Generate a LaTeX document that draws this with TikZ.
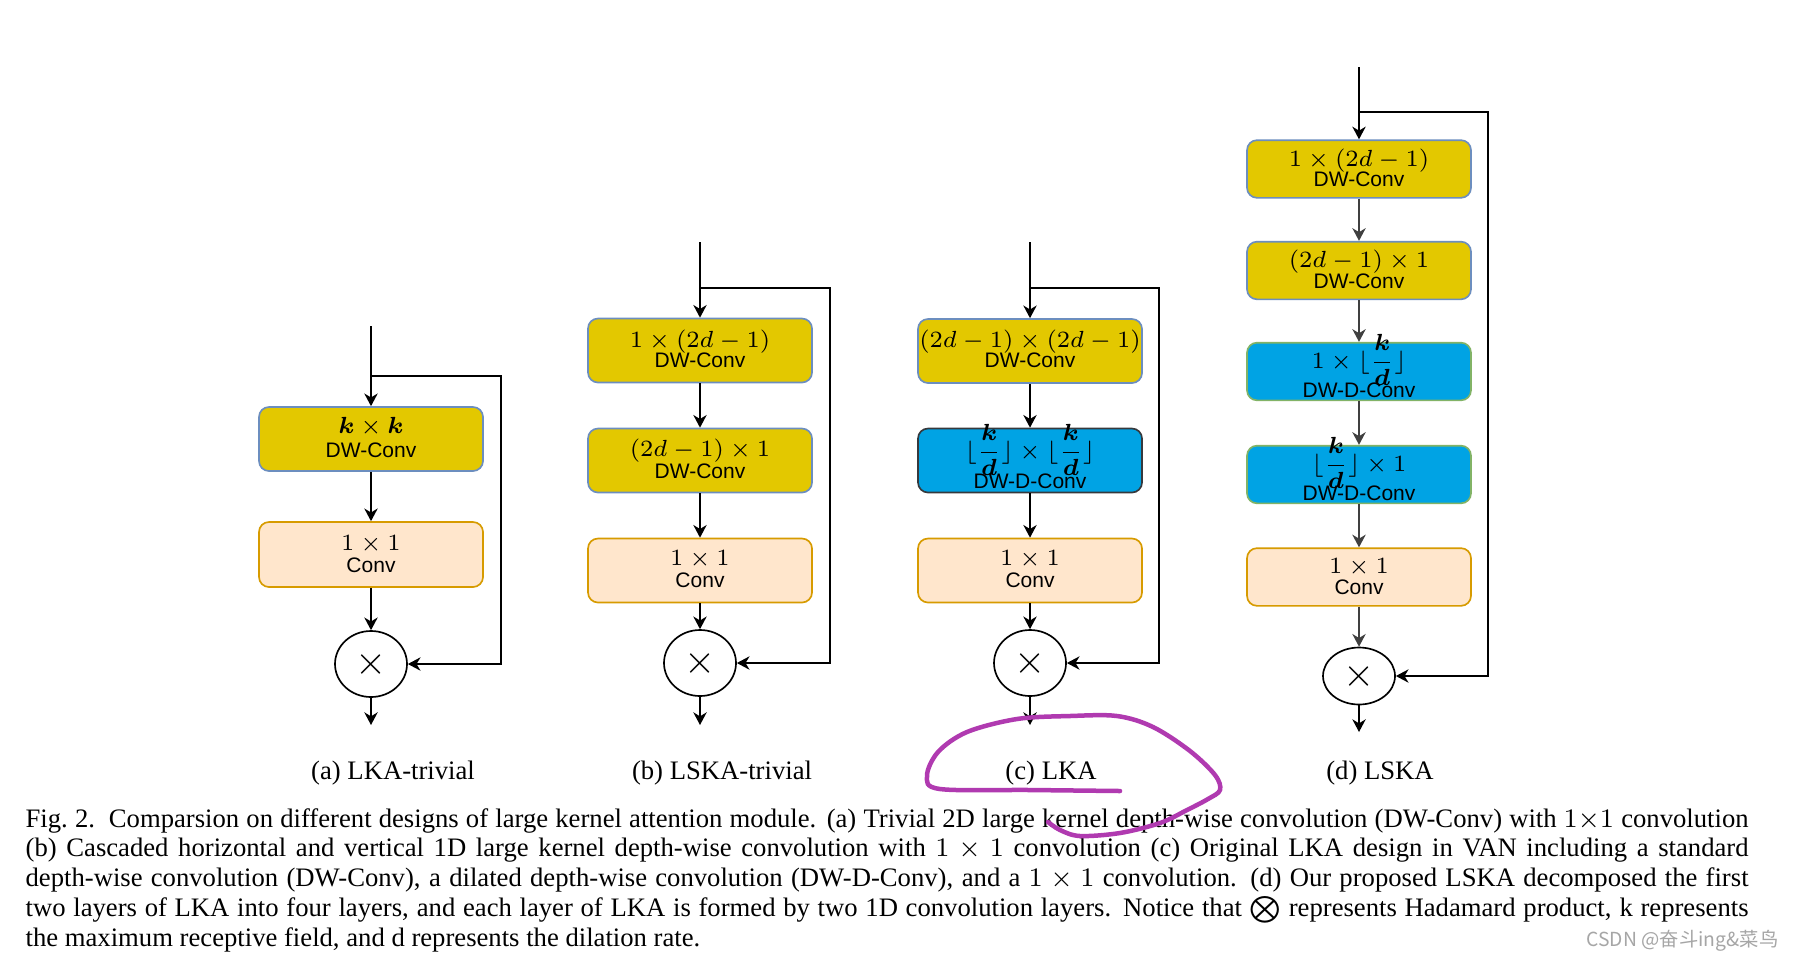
\documentclass[tikz,border=0pt]{standalone}
\usepackage{amsmath}
\usepackage[no-math]{fontspec}
\setmainfont{Liberation Serif}
\newfontfamily\hv{Liberation Sans}
\newfontfamily\cjk{Noto Sans CJK SC}
\usetikzlibrary{arrows.meta,shapes.geometric}
\definecolor{yfill}{HTML}{E3C800}
\definecolor{ybord}{HTML}{6C8EBF}
\definecolor{pfill}{HTML}{FFE6CC}
\definecolor{pbord}{HTML}{D79B00}
\definecolor{bfill}{HTML}{00A3E4}
\definecolor{bbordc}{HTML}{36393D}
\definecolor{bbordd}{HTML}{82B366}
\definecolor{annocol}{HTML}{B03AB0}
\tikzset{
 box/.style={rounded corners=3pt, line width=0.5pt, inner sep=0pt, minimum width=67.2pt, minimum height=19.2pt},
 ybox/.style={box, fill=yfill, draw=ybord},
 pbox/.style={box, fill=pfill, draw=pbord},
 bboxc/.style={box, fill=bfill, draw=bbordc},
 bboxd/.style={box, fill=bfill, draw=bbordd},
 dsize/.style={minimum height=17.3pt},
 prod/.style={ellipse, draw, line width=0.5pt, inner sep=0pt, minimum width=21.6pt, minimum height=19.8pt, fill=white, font=\fontsize{13}{13}\selectfont},
 prodd/.style={prod, minimum height=17.1pt},
 arr/.style={line width=0.55pt, -{Stealth[length=3.8pt,width=4pt,inset=1.2pt]}},
 arrd/.style={arr, draw=black!75},
 mth/.style={anchor=base, inner sep=0pt, font=\fontsize{7.3}{8}\selectfont},
 lbl/.style={anchor=base, inner sep=0pt, font={\hv\fontsize{6.3}{7}\selectfont}},
 sub/.style={anchor=base, inner sep=0pt, font=\fontsize{8}{9}\selectfont},
 anno/.style={draw=annocol, line width=1.35pt, line cap=round, line join=round},
}
\newcommand{\fkd}{\lfloor\dfrac{\boldsymbol{k}}{\boldsymbol{d}}\rfloor}
\begin{document}
\begin{tikzpicture}[x=0.3pt,y=-0.3pt]
\useasboundingbox (0,0) rectangle (1796,958);
\fill[white] (0,0) rectangle (1796,958);

% ---------- (a) LKA-trivial ----------
\node[ybox] (a1) at (371,439) {};
\node[mth] (a1m) at (371,433) {$\boldsymbol{k}\times\boldsymbol{k}$};
\node[lbl] (a1t) at (371,457) {DW-Conv};
\node[pbox, minimum height=19.5pt] (a2) at (371,554.5) {};
\node[mth] (a2m) at (371,550) {$1\times1$};
\node[lbl] (a2t) at (371,572) {Conv};
\node[prod] (ca) at (371,664) {$\times$};
\coordinate (a-in) at (371,326);
\coordinate (a-br) at (371,376);
\coordinate (a-rc) at (501,376);
\coordinate (a-out) at (371,725);
\draw[arr] (a-in) -- (a1);
\draw[arr] (a1) -- (a2);
\draw[arr] (a2) -- (ca);
\draw[arr] (ca) -- (a-out);
\draw[arr] (a-br) -- (a-rc) |- (ca.east);

% ---------- (b) LSKA-trivial ----------
\node[ybox] (b1) at (700,350.5) {};
\node[mth] (b1m) at (700,347) {$1\times(2d-1)$};
\node[lbl] (b1t) at (700,367) {DW-Conv};
\node[ybox] (b2) at (700,460.5) {};
\node[mth] (b2m) at (700,456) {$(2d-1)\times1$};
\node[lbl] (b2t) at (700,478) {DW-Conv};
\node[pbox] (b3) at (700,570.5) {};
\node[mth] (b3m) at (700,565) {$1\times1$};
\node[lbl] (b3t) at (700,587) {Conv};
\node[prod] (cb) at (700,663) {$\times$};
\coordinate (b-in) at (700,242);
\coordinate (b-br) at (700,288);
\coordinate (b-rc) at (830,288);
\coordinate (b-out) at (700,725);
\draw[arr] (b-in) -- (b1);
\draw[arr] (b1) -- (b2);
\draw[arr] (b2) -- (b3);
\draw[arr] (b3) -- (cb);
\draw[arr] (cb) -- (b-out);
\draw[arr] (b-br) -- (b-rc) |- (cb.east);

% ---------- (c) LKA ----------
\node[ybox] (c1) at (1030,351) {};
\node[mth] (c1m) at (1030,347) {$(2d-1)\times(2d-1)$};
\node[lbl] (c1t) at (1030,367) {DW-Conv};
\node[bboxc] (c2) at (1030,460.5) {};
\node[mth] (c2m) at (1030,458) {$\fkd\times\fkd$};
\node[lbl] (c2t) at (1030,488) {DW-D-Conv};
\node[pbox] (c3) at (1030,570.5) {};
\node[mth] (c3m) at (1030,565) {$1\times1$};
\node[lbl] (c3t) at (1030,587) {Conv};
\node[prod] (cc) at (1030,663) {$\times$};
\coordinate (c-in) at (1030,242);
\coordinate (c-br) at (1030,288);
\coordinate (c-rc) at (1159,288);
\coordinate (c-out) at (1030,725);
\draw[arr] (c-in) -- (c1);
\draw[arr] (c1) -- (c2);
\draw[arr] (c2) -- (c3);
\draw[arr] (c3) -- (cc);
\draw[arr] (cc) -- (c-out);
\draw[arr] (c-br) -- (c-rc) |- (cc.east);

% ---------- (d) LSKA ----------
\node[ybox, dsize] (d1) at (1359,169) {};
\node[mth] (d1m) at (1359,166) {$1\times(2d-1)$};
\node[lbl] (d1t) at (1359,186) {DW-Conv};
\node[ybox, dsize] (d2) at (1359,270.5) {};
\node[mth] (d2m) at (1359,267) {$(2d-1)\times1$};
\node[lbl] (d2t) at (1359,288) {DW-Conv};
\node[bboxd, dsize] (d3) at (1359,371.5) {};
\node[mth] (d3m) at (1359,368) {$1\times\fkd$};
\node[lbl] (d3t) at (1359,397) {DW-D-Conv};
\node[bboxd, dsize] (d4) at (1359,474.5) {};
\node[mth] (d4m) at (1359,471) {$\fkd\times1$};
\node[lbl] (d4t) at (1359,500) {DW-D-Conv};
\node[pbox, dsize] (d5) at (1359,577) {};
\node[mth] (d5m) at (1359,573) {$1\times1$};
\node[lbl] (d5t) at (1359,594) {Conv};
\node[prodd] (cd) at (1359,676) {$\times$};
\coordinate (d-in) at (1359,67);
\coordinate (d-br) at (1359,112);
\coordinate (d-rc) at (1488,112);
\coordinate (d-out) at (1359,732);
\draw[arr] (d-in) -- (d1);
\draw[arrd] (d1) -- (d2);
\draw[arrd] (d2) -- (d3);
\draw[arrd] (d3) -- (d4);
\draw[arrd] (d4) -- (d5);
\draw[arrd] (d5) -- (cd);
\draw[arr] (cd) -- (d-out);
\draw[arr] (d-br) -- (d-rc) |- (cd.east);

% ---------- sub-captions ----------
\node[sub] (sa) at (393,779) {(a) LKA-trivial};
\node[sub] (sb) at (722,779) {(b) LSKA-trivial};
\node[sub] (sc) at (1051,779) {(c) LKA};
\node[sub] (sd) at (1380,779) {(d) LSKA};

% ---------- caption ----------
\node[anchor=base west, inner sep=0pt, text width=516.9pt, align=justify, font=\fontsize{8}{8.94}\selectfont] (cap) at (25,827)
{\tolerance=9999\hyphenpenalty=10000\emergencystretch=5pt
Fig.~2.\hskip 4pt plus 1pt Comparsion on different designs of large kernel attention module. (a) Trivial 2D large kernel depth-wise convolution (DW-Conv) with $1{\times}1$ convolution\linebreak
(b) Cascaded horizontal and vertical 1D large kernel depth-wise convolution with $1\times1$ convolution (c) Original LKA design in VAN including a standard\linebreak
depth-wise convolution (DW-Conv), a dilated depth-wise convolution (DW-D-Conv), and a $1\times1$ convolution. (d) Our proposed LSKA decomposed the first\linebreak
two layers of LKA into four layers, and each layer of LKA is formed by two 1D convolution layers. Notice that $\bigotimes$ represents Hadamard product, k represents\linebreak
the maximum receptive field, and d represents the dilation rate.};

% ---------- hand-drawn annotation ----------
\draw[anno] plot[smooth, tension=0.55] coordinates {(1120,791) (1030,790) (940,789) (927,776) (938,752) (967,732) (1017,719) (1070,716) (1117,716) (1153,727) (1190,751) (1215,775) (1220,790) (1208,799) (1187,810) (1160,823) (1120,833) (1080,836) (1060,830) (1048,822)};

% ---------- watermark ----------
\node[anchor=base east, inner sep=0pt, text=black!35, font=\cjk\fontsize{5.8}{6}\selectfont] (wm) at (1779,946) {CSDN @奋斗ing\&菜鸟};
\end{tikzpicture}
\end{document}
